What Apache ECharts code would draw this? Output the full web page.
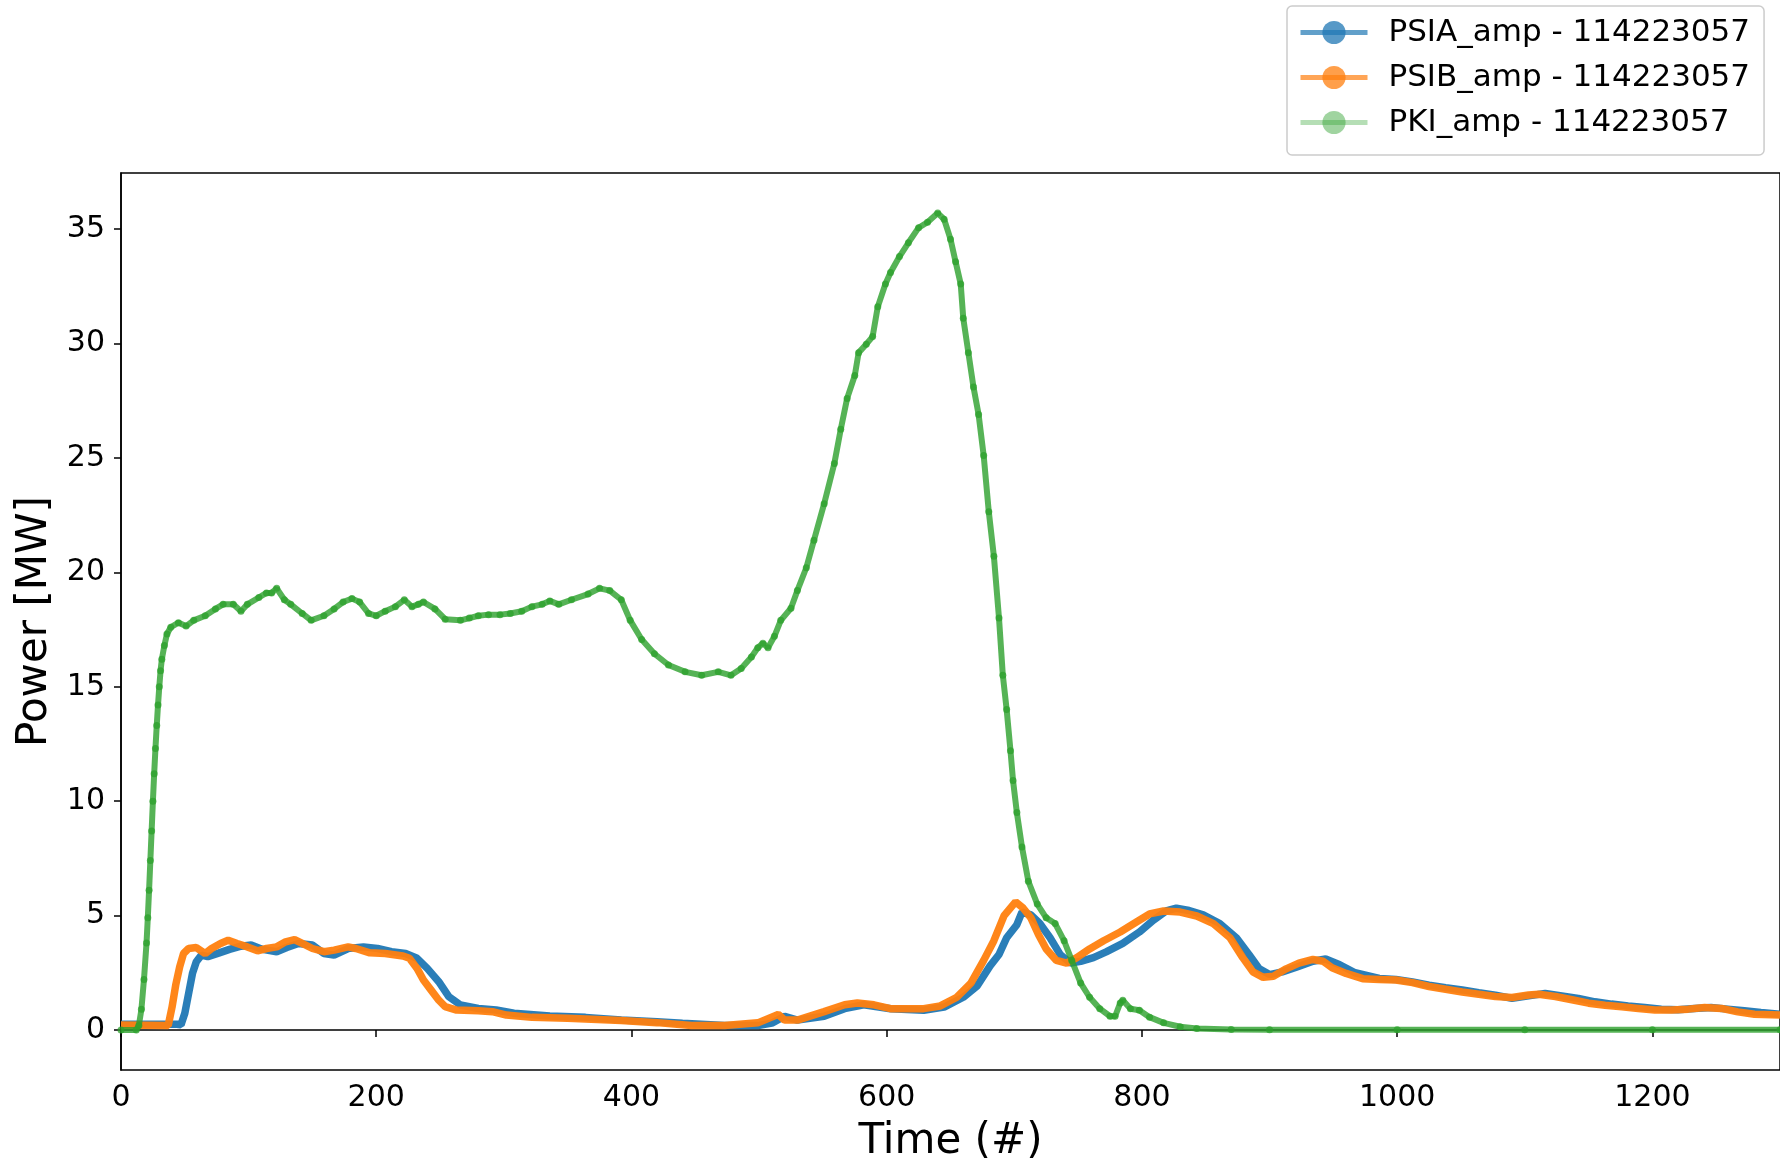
<!DOCTYPE html>
<html>
<head>
<meta charset="utf-8">
<script src="https://cdn.jsdelivr.net/npm/echarts@6/dist/echarts.min.js"></script>
<style>html,body{margin:0;padding:0;background:#fff}#c{width:1780px;height:1168px}</style>
</head>
<body>
<div id="c"></div>
<script>
// ---- data ----
const seriesNames = ['PSIA_amp - 114223057', 'PSIB_amp - 114223057', 'PKI_amp - 114223057'];

const psiaT = [0,44,47,50,53,56,59,63,68,77, 85,94,102,111,122,130,139,150,159,167, 178,190,201,212,223,232,240,249,257,266, 280,294,308,336,364,392,420,440,473,499, 510,520,530,551,567,582,603,629,645,660, 671,681,688,694,702,706,713,720,728,736, 744,752,762,772,785,798,809,819,827,837, 848,861,874,884,892,900,910,921,934,944, 955,967,986,999,1012,1025,1038,1051,1064,1077, 1090,1103,1116,1129,1142,1155,1168,1181,1194,1207, 1220,1233,1246,1259,1272,1285,1300];
const psiaV = [0.25,0.25,0.22,0.73,1.6,2.47,2.98,3.27,3.2,3.37, 3.52,3.66,3.71,3.52,3.42,3.6,3.78,3.71,3.34,3.27, 3.56,3.63,3.56,3.42,3.34,3.13,2.69,2.11,1.45,1.09, 0.94,0.87,0.73,0.61,0.55,0.44,0.36,0.29,0.19,0.19, 0.3,0.6,0.43,0.6,0.93,1.1,0.93,0.86,1.0,1.43, 1.93,2.8,3.3,4.03,4.6,5.15,5.03,4.65,4.03,3.29, 2.92,3.0,3.16,3.41,3.78,4.28,4.8,5.2,5.32,5.22, 5.03,4.65,4.03,3.29,2.67,2.42,2.54,2.74,3.0,3.1, 2.85,2.5,2.25,2.21,2.1,1.96,1.85,1.75,1.63,1.52, 1.38,1.49,1.6,1.49,1.38,1.23,1.13,1.05,0.98,0.91, 0.88,0.94,0.98,0.91,0.84,0.76,0.69];

const psibT = [0,37,40,43,46,49,53,59,66,71, 78,84,91,99,107,114,122,129,136,142, 150,159,167,178,184,195,207,221,226,232, 237,243,249,254,263,280,291,302,322,350, 364,392,420,447,473,499,515,520,530,551, 567,577,590,603,629,642,655,666,676,684, 692,701,707,713,719,725,733,741,749,759, 770,783,796,806,817,830,843,856,869,879, 887,895,903,913,923,934,942,949,960,973, 986,999,1012,1025,1038,1051,1064,1077,1090,1103, 1111,1124,1137,1150,1163,1176,1189,1202,1215,1228, 1241,1254,1267,1280,1300];
const psibV = [0.22,0.2,1.0,2.0,2.76,3.34,3.56,3.6,3.34,3.56, 3.78,3.92,3.78,3.63,3.46,3.56,3.63,3.85,3.95,3.78, 3.56,3.42,3.49,3.63,3.56,3.37,3.34,3.23,3.13,2.69, 2.18,1.74,1.3,1.02,0.87,0.84,0.8,0.65,0.55,0.51, 0.48,0.41,0.32,0.19,0.19,0.31,0.68,0.43,0.43,0.8, 1.1,1.18,1.1,0.93,0.93,1.05,1.43,2.05,3.04,3.9, 5.0,5.6,5.32,4.9,4.16,3.54,3.04,2.92,3.16,3.54, 3.9,4.28,4.73,5.07,5.2,5.15,4.98,4.65,4.03,3.16, 2.54,2.3,2.35,2.67,2.92,3.08,3.0,2.72,2.47,2.24, 2.21,2.18,2.07,1.9,1.78,1.66,1.56,1.46,1.42,1.53, 1.56,1.46,1.32,1.17,1.08,1.01,0.94,0.87,0.87,0.91, 0.98,0.94,0.79,0.69,0.65];

const pkiT = [0,12,14,16,18,20,21,22,23,24, 25,26,27,28,29,30,31,32,34,36, 39,45,51,57,66,74,80,88,94,99, 108,114,118,122,128,133,142,149,159,167, 174,181,187,194,200,207,215,222,228,233, 237,246,254,266,273,280,288,297,305,314, 322,330,336,343,353,366,375,383,392,399, 408,418,429,442,455,468,478,486,494,499, 503,507,512,517,525,530,537,543,551,559, 564,569,575,578,584,589,593,599,603,610, 617,625,632,640,645,650,654,658,660,664, 668,672,676,680,684,688,691,694,697,699, 702,706,711,718,725,732,739,745,752,759, 767,775,779,783,785,791,798,806,817,830, 843,870,900,1000,1100,1200,1300];
const pkiV = [0,0,0.2,0.9,2.2,3.8,4.9,6.1,7.4,8.7, 10.0,11.2,12.3,13.3,14.2,15.0,15.7,16.2,16.8,17.3, 17.6,17.8,17.65,17.9,18.1,18.4,18.6,18.6,18.3,18.6, 18.9,19.1,19.1,19.3,18.8,18.6,18.2,17.9,18.1,18.4, 18.7,18.85,18.7,18.2,18.1,18.3,18.5,18.8,18.5,18.6, 18.7,18.4,17.95,17.9,18.0,18.1,18.15,18.15,18.2,18.3, 18.5,18.6,18.75,18.6,18.8,19.05,19.3,19.2,18.8,17.9, 17.06,16.44,15.95,15.65,15.5,15.65,15.5,15.8,16.3,16.7, 16.9,16.7,17.2,17.9,18.43,19.2,20.2,21.4,23.0,24.76, 26.25,27.6,28.6,29.6,29.97,30.3,31.6,32.6,33.1,33.8, 34.4,35.06,35.3,35.7,35.43,34.56,33.57,32.6,31.1,29.6, 28.1,26.9,25.1,22.65,20.7,18.0,15.5,14.0,12.2,10.9, 9.5,8.0,6.5,5.5,4.9,4.65,3.9,3.04,2.05,1.43, 0.93,0.6,0.6,1.18,1.3,0.93,0.86,0.56,0.31,0.14, 0.06,0.02,0.01,0.01,0.01,0.01,0.01];

const xTicks = [0,200,400,600,800,1000,1200];
const yTicks = [0,5,10,15,20,25,30,35];

// ---- chart ----
const FONT = 'DejaVu Sans';
function pairs(t, v) { return t.map((x, i) => [x, v[i]]); }

const chart = echarts.init(document.getElementById('c'), null, {renderer: 'canvas'});
chart.setOption({
  animation: false,
  backgroundColor: '#ffffff',
  grid: {left: 121, top: 173, right: -5, bottom: 98, show: true, borderColor: '#000', borderWidth: 1.5, backgroundColor: 'transparent'},
  legend: {
    orient: 'vertical', left: 1287, top: 6,
    padding: [11, 14, 17, 11], itemGap: 14, itemWidth: 67, itemHeight: 29,
    borderColor: '#cccccc', borderWidth: 1.5, borderRadius: 5, backgroundColor: 'rgba(255,255,255,0.8)',
    textStyle: {fontFamily: FONT, fontSize: 31, color: '#000', padding: [0, 0, 0, 16]},
    data: [
      {name: seriesNames[0], lineStyle: {width: 5, opacity: 0.7}, itemStyle: {opacity: 0.75}},
      {name: seriesNames[1], lineStyle: {width: 5, opacity: 0.7}, itemStyle: {opacity: 0.75}},
      {name: seriesNames[2], lineStyle: {width: 5, opacity: 0.35}, itemStyle: {opacity: 0.45}}
    ]
  },
  xAxis: {
    type: 'value', min: 0, max: 1300, interval: 200,
    name: 'Time (#)', nameLocation: 'middle', nameGap: 51,
    nameTextStyle: {fontFamily: FONT, fontSize: 42, color: '#000'},
    axisLine: {show: true, lineStyle: {color: '#000', width: 1.5}},
    axisTick: {show: true, length: 7, lineStyle: {color: '#000', width: 1.5}, customValues: xTicks},
    axisLabel: {fontFamily: FONT, fontSize: 30, color: '#000', margin: 13, customValues: xTicks,
      formatter: function (v) { return String(v); }},
    splitLine: {show: false}
  },
  yAxis: {
    type: 'value', min: -1.75, max: 37.45,
    name: 'Power [MW]', nameLocation: 'middle', nameGap: 61,
    nameTextStyle: {fontFamily: FONT, fontSize: 42, color: '#000'},
    axisLine: {show: true, lineStyle: {color: '#000', width: 1.5}},
    axisTick: {show: true, length: 7, lineStyle: {color: '#000', width: 1.5}, customValues: yTicks},
    axisLabel: {fontFamily: FONT, fontSize: 30, color: '#000', margin: 16, customValues: yTicks,
      formatter: function (v) { return String(v); }},
    splitLine: {show: false}
  },
  series: [
    {
      name: seriesNames[0], type: 'line', data: pairs(psiaT, psiaV),
      symbol: 'circle', symbolSize: 6, showSymbol: false, silent: true,
      lineStyle: {color: '#1f77b4', width: 7.5, opacity: 0.95},
      itemStyle: {color: '#1f77b4', opacity: 0.75},
      emphasis: {disabled: true}
    },
    {
      name: seriesNames[1], type: 'line', data: pairs(psibT, psibV),
      symbol: 'circle', symbolSize: 6, showSymbol: false, silent: true,
      lineStyle: {color: '#ff7f0e', width: 7.5, opacity: 0.95},
      itemStyle: {color: '#ff7f0e', opacity: 0.75},
      emphasis: {disabled: true}
    },
    {
      name: seriesNames[2], type: 'line', data: pairs(pkiT, pkiV),
      symbol: 'circle', symbolSize: 7, showSymbol: true, showAllSymbol: true, silent: true,
      lineStyle: {color: '#2ca02c', width: 6, opacity: 0.8},
      itemStyle: {color: '#2ca02c', opacity: 0.75},
      emphasis: {disabled: true}
    }
  ]
});
</script>
</body>
</html>
